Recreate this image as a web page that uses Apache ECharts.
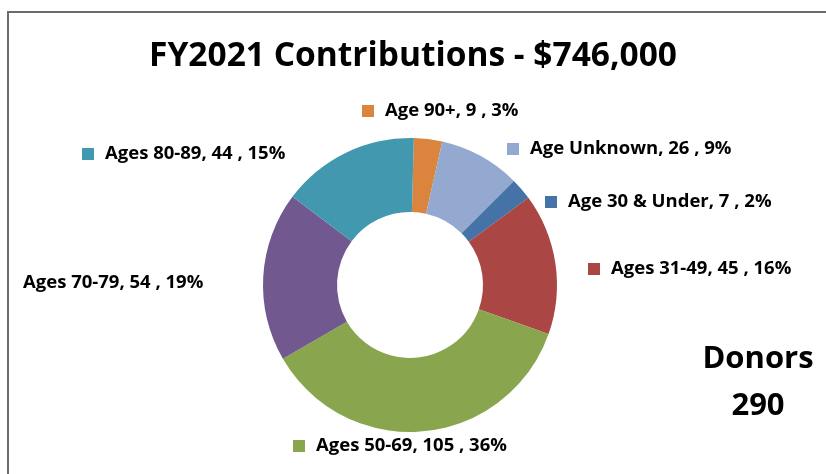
<!DOCTYPE html>
<html>
<head>
<meta charset="utf-8">
<script src="https://cdn.jsdelivr.net/npm/echarts@6/dist/echarts.min.js"></script>
<style>
  html, body { margin: 0; padding: 0; background: #fff; }
  #main { width: 826px; height: 474px; }
</style>
</head>
<body>
<div id="main"></div>
<script>
// donor counts by age group, clockwise from the top
var groups = ['Age 90+', 'Age Unknown', 'Age 30 & Under', 'Ages 31-49', 'Ages 50-69', 'Ages 70-79', 'Ages 80-89'];
var donors = [9, 26, 7, 45, 105, 54, 44];
var colors = ['#DB843D', '#93A9CF', '#4572A7', '#AA4643', '#89A54E', '#71588F', '#4298AF'];
var showKey = [true, true, true, true, true, false, true];

var titleText = 'FY2021 Contributions - $746,000';
var totalDonors = donors.reduce(function (a, b) { return a + b; }, 0);

// where each data label sits (left edge, vertical middle), moved by hand like in the original
var labelSpots = [[362, 111], [507, 149], [545, 202], [588, 269], [293, 446], [23, 283], [82, 154]];

var font = 'Open Sans';

var chart = echarts.init(document.getElementById('main'));

chart.setOption({
  animation: false,
  title: {
    text: titleText,
    left: 'center',
    top: 34,
    textStyle: { fontFamily: font, fontWeight: 'bold', fontSize: 33.5, color: '#000' }
  },
  graphic: [
    {
      type: 'rect',
      shape: { x: 8, y: 12, width: 840, height: 480 },
      style: { fill: 'none', stroke: '#6b6b6b', lineWidth: 2 }
    },
    {
      type: 'text',
      x: 758,
      y: 336,
      style: {
        text: 'Donors\n' + totalDonors,
        fontFamily: font,
        fontWeight: 'bold',
        fontSize: 31,
        lineHeight: 47,
        align: 'center',
        fill: '#000'
      }
    }
  ],
  series: [
    {
      type: 'pie',
      center: [410, 285],
      radius: [73, 147],
      startAngle: 88.5,
      clockwise: true,
      itemStyle: { borderWidth: 0 },
      labelLine: { show: false },
      label: {
        show: true,
        position: 'outside',
        formatter: function (p) {
          var pct = Math.round(p.value / totalDonors * 100);
          var txt = '{t|' + p.name + ', ' + p.value + ' , ' + pct + '%}';
          return showKey[p.dataIndex] ? '{k' + p.dataIndex + '|}{gap|}' + txt : txt;
        },
        rich: (function () {
          var r = {
            t: { fontFamily: font, fontWeight: 'bold', fontSize: 18.5, color: '#000' },
            gap: { width: 11, height: 12 }
          };
          colors.forEach(function (c, i) {
            r['k' + i] = { width: 12, height: 12, backgroundColor: c };
          });
          return r;
        })()
      },
      labelLayout: function (params) {
        var s = labelSpots[params.dataIndex];
        return { x: s[0], y: s[1], align: 'left', verticalAlign: 'middle', moveOverlap: false, hideOverlap: false };
      },
      data: groups.map(function (g, i) {
        return { name: g, value: donors[i], itemStyle: { color: colors[i] } };
      })
    }
  ]
});
</script>
</body>
</html>
